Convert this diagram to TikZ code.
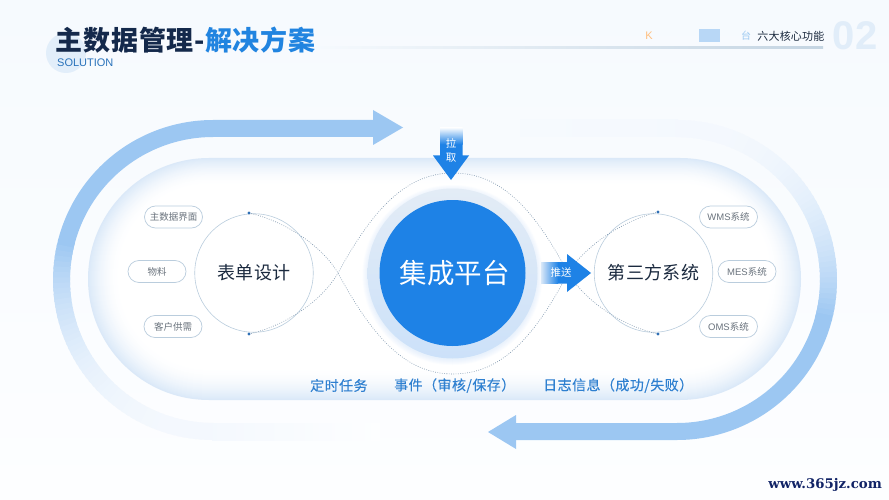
\documentclass[tikz,border=0pt]{standalone}
\usepackage{fontspec}
\setmainfont{Noto Sans CJK SC}
\newfontfamily\titlefont[LetterSpace=3]{Noto Sans CJK SC}
\newfontfamily\mediumfont[LetterSpace=3.2,FakeBold=0.25]{Noto Sans CJK SC}
\newfontfamily\labelfont[LetterSpace=1.5]{Noto Sans CJK SC}
\newfontfamily\latinfont{Liberation Sans}
\newfontfamily\wmfont{DejaVu Serif}
\usetikzlibrary{shapes.misc}
\definecolor{bgtop}{HTML}{F6FAFE}
\definecolor{bgbot}{HTML}{FDFEFF}
\definecolor{bandA}{HTML}{9CC7F2}
\definecolor{bandB}{HTML}{F7FAFE}
\definecolor{glow}{HTML}{D9E8F8}
\definecolor{coreblue}{HTML}{1E82E6}
\definecolor{navy}{HTML}{14294B}
\definecolor{titleblue}{HTML}{2184E0}
\definecolor{labelblue}{HTML}{2F80D0}
\definecolor{ringline}{HTML}{BACDDD}
\definecolor{dotline}{HTML}{7F97AE}
\definecolor{dotblue}{HTML}{2E6FB5}
\definecolor{pilltext}{HTML}{6A737D}
\definecolor{inktext}{HTML}{1B2A3F}
\definecolor{patchblue}{HTML}{B8D7F6}
\definecolor{halotop}{HTML}{E3ECF6}
\definecolor{halobot}{HTML}{CCE1F9}
\tikzset{
  pill/.style={draw=ringline,line width=.7pt,fill=white,rounded rectangle,minimum width=58pt,minimum height=22pt,inner sep=0pt,text=pilltext,font=\fontsize{9.5}{10}\selectfont},
  ring/.style={circle,draw=ringline,line width=.6pt,fill=white,inner sep=0pt,minimum size=118.5pt,text=inktext,font=\labelfont\fontsize{18}{18}\selectfont},
  dotnode/.style={circle,fill=dotblue,inner sep=0pt,minimum size=3.2pt},
  dotcurve/.style={draw=dotline,line width=.6pt,dash pattern=on .8pt off 1.5pt},
  bottomlabel/.style={anchor=west,inner sep=0pt,text=labelblue,font=\mediumfont\fontsize{14}{14}\selectfont},
  flatband/.style={line width=17pt,color=bandA,line cap=butt,line join=round}
}
\begin{document}
\begin{tikzpicture}[x=1pt,y=-1pt]
\useasboundingbox (0,0) rectangle (889,500);
\shade[top color=bgtop,bottom color=bgbot] (0,0) rectangle (889,500);

% header
\fill[color=glow!75!white] (66,53) circle (20);
\shade[left color=bgtop,middle color=bgtop!88!ringline,right color=ringline!85!white] (314,47) rectangle (823,48.3);
\node[anchor=west,inner sep=0pt,font=\titlefont\bfseries\fontsize{27}{27}\selectfont] (title) at (55.5,40) {\textcolor{navy}{主数据管理-}\textcolor{titleblue}{解决方案}};
\node[anchor=west,inner sep=0pt,text=labelblue!90!black,font=\latinfont\fontsize{11}{11}\selectfont] (solution) at (57,63) {SOLUTION};
\node[inner sep=0pt,text=orange!50!white,font=\latinfont\fontsize{11}{11}\selectfont] (kfrag) at (649,36) {K};
\fill[color=patchblue] (699,29) rectangle (720,42);
\node[inner sep=0pt,text=titleblue!45!white,font=\fontsize{10}{10}\selectfont] (tai) at (746,36) {台};
\node[anchor=east,inner sep=0pt,text=inktext,font=\labelfont\fontsize{11}{11}\selectfont] (six) at (824.5,36) {六大核心功能};
\node[inner sep=0pt,text=glow!80!white,font=\latinfont\bfseries\fontsize{40}{40}\selectfont] (num) at (855,36) {02};

% faded parts of the circulating bands
\foreach \a in {165,167,...,268}{
  \pgfmathsetmacro\tt{(\a-165)/105}
  \pgfmathsetmacro\p{3+97*(1-\tt)^3}
  \draw[line width=17pt,color={bandA!\p!bandB}] ({213+151.5*cos(\a)},{280-151.5*sin(\a)}) -- ({213+151.5*cos(\a+3)},{280-151.5*sin(\a+3)});
  \draw[line width=17pt,color={bandA!\p!bandB}] ({677+151.5*cos(\a+180)},{280-151.5*sin(\a+180)}) -- ({677+151.5*cos(\a+183)},{280-151.5*sin(\a+183)});
}
\shade[left color=bandA!3!bandB,right color=bgbot] (212,423) rectangle (380,440);
\shade[right color=bandA!3!bandB,left color=bgtop] (520,120) rectangle (678,137);

% solid parts
\draw[flatband] (376,128.5) -- (213,128.5) -- plot[domain=90:166,samples=50] ({213+151.5*cos(\x)},{280-151.5*sin(\x)});
\fill[color=bandA] (373,110) -- (403,127.5) -- (373,145) -- cycle;
\draw[flatband] (513,431.5) -- (677,431.5) -- plot[domain=270:346,samples=50] ({677+151.5*cos(\x)},{280-151.5*sin(\x)});
\fill[color=bandA] (516,415) -- (488,432) -- (516,449) -- cycle;

% inner stadium with inset glow
\foreach \i in {0,1,...,32}{
  \pgfmathsetmacro\q{95*(1-\i/32)^1.8}
  \fill[color={glow!\q!white},rounded corners={121pt-\i*1pt}] ({88+\i},{158+.85*\i}) rectangle ({801-\i},{400-\i});
}

% central halo
\foreach \i in {0,1,...,5}{
  \pgfmathsetmacro\q{8+\i*7}
  \fill[color={halobot!\q!white}] (452.5,275) circle ({90-\i});
}
\shade[top color=halotop,middle color=halotop!75!halobot,bottom color=halobot] (452.5,273.5) circle (85);

% connectors
\coordinate (Lt) at (249,213);
\coordinate (Lb) at (249,334);
\coordinate (Rt) at (658,212);
\coordinate (Rb) at (658,334);
\coordinate (X1) at (338,273);
\coordinate (X2) at (568,273);
\coordinate (Ct) at (453,173);
\coordinate (Cb) at (453,374);

\node[ring] (form) at (254,273) {表单设计};
\node[ring] (third) at (653.5,273) {第三方系统};
\node[circle,fill=coreblue,inner sep=0pt,minimum size=146pt,text=white,font=\fontsize{27.5}{28}\selectfont] (core) at (452.5,273) {\hspace*{4pt}集成平台};

\draw[dotcurve] (Lt) .. controls (285,221) and (322,246) .. (X1) .. controls (372,336) and (405,374) .. (Cb) .. controls (502,374) and (535,336) .. (X2) .. controls (585,246) and (622,221) .. (Rt);
\draw[dotcurve] (Lb) .. controls (285,326) and (322,301) .. (X1) .. controls (372,211) and (405,173) .. (Ct) .. controls (502,173) and (535,211) .. (X2) .. controls (585,301) and (622,326) .. (Rb);

\node[dotnode] (dLt) at (Lt) {};
\node[dotnode] (dLb) at (Lb) {};
\node[dotnode] (dRt) at (Rt) {};
\node[dotnode] (dRb) at (Rb) {};

% pills
\node[pill] (p1) at (173.5,217) {主数据界面};
\node[pill] (p2) at (157,271.5) {物料};
\node[pill] (p3) at (173,326.5) {客户供需};
\node[pill] (p4) at (728.5,217) {{\latinfont WMS}系统};
\node[pill] (p5) at (747,271.5) {{\latinfont MES}系统};
\node[pill] (p6) at (728.5,326.5) {{\latinfont OMS}系统};

% pull arrow
\fill[color=coreblue] (440,144) -- (462.5,144) -- (462.5,155.5) -- (469,155.5) -- (451,180) -- (433,155.5) -- (440,155.5) -- cycle;
\shade[top color=bgtop,bottom color=coreblue] (440,128) rectangle (462.5,144.2);
\node[inner sep=0pt,align=center,text=white,font=\fontsize{10.5}{14}\selectfont] (pull) at (451,150) {拉\\取};

% push arrow
\fill[color=coreblue] (558,262) -- (567,262) -- (567,254) -- (591,273) -- (567,292) -- (567,283.5) -- (558,283.5) -- cycle;
\shade[left color=glow,right color=coreblue] (541,262) rectangle (558.2,283.5);
\node[inner sep=0pt,text=white,font=\fontsize{10.5}{11}\selectfont] (push) at (561,273) {推送};

% bottom labels
\node[bottomlabel] (l1) at (310,385.5) {定时任务};
\node[bottomlabel] (l2) at (394,385.5) {事件（审核/保存）};
\node[bottomlabel] (l3) at (543,385.5) {日志信息（成功/失败）};

% watermark
\node[anchor=east,inner sep=0pt,text=navy!85!blue,font=\wmfont\bfseries\fontsize{13.3}{13.3}\selectfont] (wm) at (882,485) {www.365jz.com};
\end{tikzpicture}
\end{document}
